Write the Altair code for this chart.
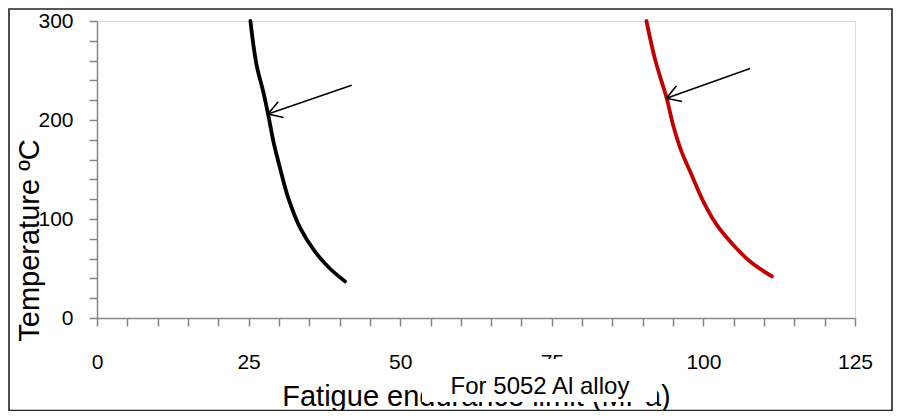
import altair as alt
import pandas as pd
import math

# ---- data ----
black_x = [25.3, 26.3, 27.4, 28.25, 29.1, 30.2, 31.55, 33.5, 35.95, 38.4, 40.9]
black_y = [300, 256, 229, 205, 178, 151, 121, 91, 67, 50, 37]
red_x = [90.6, 92.0, 93.1, 93.95, 95.0, 96.4, 98.1, 100.0, 102.2, 104.9, 107.7, 111.3]
red_y = [300, 262, 239, 222, 195, 168, 144, 117.5, 94, 74, 57, 42]

# arrows: start (x, y) -> tip (x, y)
arrow_start_x = [42.0, 107.7]
arrow_start_y = [235, 252]
arrow_tip_x = [28.2, 93.9]
arrow_tip_y = [206, 222]

x_ticks = list(range(0, 126, 5))
y_ticks = list(range(0, 301, 20))

W, H = 758, 297
XMAX, YMAX = 125, 300

curves = pd.DataFrame({
    "x": black_x + red_x,
    "y": black_y + red_y,
    "s": ["black"] * len(black_x) + ["red"] * len(red_x),
    "o": list(range(len(black_x))) + list(range(len(red_x))),
})

# arrow shafts
shafts = pd.DataFrame({"x": arrow_start_x, "y": arrow_start_y,
                       "x2": arrow_tip_x, "y2": arrow_tip_y})

# arrow heads computed from the shaft direction (in pixel space)
kx, ky = W / XMAX, H / YMAX
heads = []
for sx, sy, tx, ty in zip(arrow_start_x, arrow_start_y, arrow_tip_x, arrow_tip_y):
    dx, dy = (sx - tx) * kx, -(sy - ty) * ky
    ang = math.atan2(dy, dx)
    for d in (-0.55, 0.55):
        a = ang + d
        hx = tx + 16 * math.cos(a) / kx
        hy = ty - 16 * math.sin(a) / ky
        heads.append({"x": tx, "y": ty, "x2": hx, "y2": hy})
heads = pd.DataFrame(heads)

one = pd.DataFrame({"a": [0]})

FONT = "Liberation Sans"

xscale = alt.Scale(domain=[0, XMAX], nice=False, zero=False)
yscale = alt.Scale(domain=[0, YMAX], nice=False, zero=False)

x_axis = alt.Axis(
    values=x_ticks, tickCount=200, format="d",
    labelExpr="datum.value % 25 == 0 ? datum.label : ''",
    title="Fatigue  endurance limit (MPa)", titleFontSize=29, titleFont=FONT,
    titleFontWeight="normal", titleColor="black", titleY=87, titleBaseline="alphabetic",
    labelFontSize=21, labelFont=FONT, labelColor="black", labelPadding=25,
    tickSize=8, tickColor="#868686", tickWidth=1.5, domainColor="#868686",
    domainWidth=1.5, grid=False, labelFlush=False, labelOverlap=False,
)
y_axis = alt.Axis(
    values=y_ticks, tickCount=200, format="d",
    labelExpr="datum.value % 100 == 0 ? datum.label : ''",
    title="Temperature ºC", titleFontSize=29, titleFont=FONT,
    titleFontWeight="normal", titleColor="black", titleAngle=270,
    titleX=-59, titleY=219, titleBaseline="alphabetic", titleAlign="center",
    labelFontSize=21, labelFont=FONT, labelColor="black", labelPadding=16,
    tickSize=8, tickColor="#868686", tickWidth=1.5, domainColor="#868686",
    domainWidth=1.5, grid=False, labelFlush=False, labelOverlap=False,
)

lines = alt.Chart(curves).mark_line(strokeWidth=3.8, interpolate="catmull-rom",
                                    strokeCap="round").encode(
    x=alt.X("x:Q", scale=xscale, axis=x_axis),
    y=alt.Y("y:Q", scale=yscale, axis=y_axis),
    color=alt.Color("s:N", scale=alt.Scale(domain=["black", "red"],
                                           range=["#000000", "#C00000"]), legend=None),
    detail="s:N",
    order="o:Q",
)

shaft_layer = alt.Chart(shafts).mark_rule(color="black", strokeWidth=1.6).encode(
    x="x:Q", y="y:Q", x2="x2:Q", y2="y2:Q")
head_layer = alt.Chart(heads).mark_rule(color="black", strokeWidth=1.6).encode(
    x="x:Q", y="y:Q", x2="x2:Q", y2="y2:Q")

box = alt.Chart(one).mark_rect(fill="white").encode(
    x=alt.value(325), x2=alt.value(560), y=alt.value(338), y2=alt.value(381))
note = alt.Chart(one).mark_text(text="For 5052 Al alloy", font=FONT, fontSize=24,
                                align="center", baseline="alphabetic", color="black").encode(
    x=alt.value(443), y=alt.value(373))

border = alt.Chart(one).mark_rect(fill="white", fillOpacity=0, stroke="#222222",
                                  strokeWidth=1.6).encode(
    x=alt.value(-88), x2=alt.value(795), y=alt.value(-12), y2=alt.value(389.5))

chart = alt.layer(border, lines, shaft_layer, head_layer, box, note).properties(
    width=W, height=H,
    padding={"left": 89, "top": 13, "right": 38, "bottom": 93},
    autosize=alt.AutoSizeParams(type="none"),
).configure_view(stroke=None).configure(background="white")

chart.save("out.html", embed_options={"renderer": "svg", "actions": False})
